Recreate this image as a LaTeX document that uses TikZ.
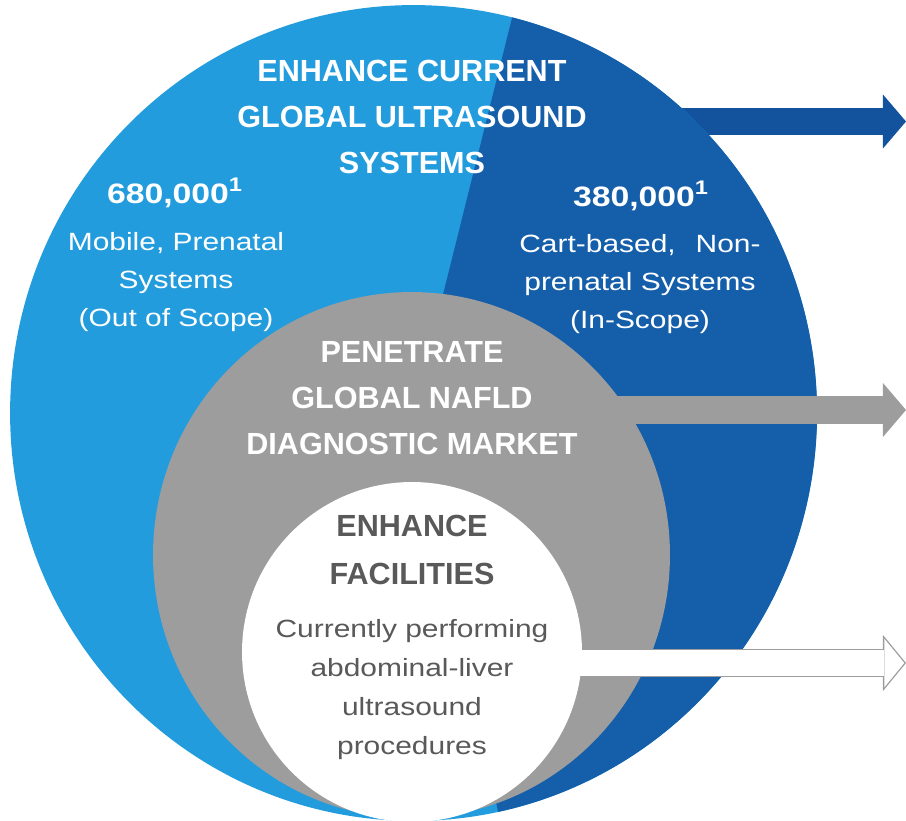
\documentclass[tikz,border=0pt]{standalone}
\usepackage{fontspec}
\setmainfont{Liberation Sans}
\newfontfamily\widefont[FakeStretch=1.2]{Liberation Sans}
\usetikzlibrary{arrows.meta, shapes.geometric}

\definecolor{lightblue}{HTML}{239CDD}
\definecolor{darkblue}{HTML}{145EAA}
\definecolor{arrowblue}{HTML}{13529D}
\definecolor{midgray}{HTML}{9D9D9D}
\definecolor{textgray}{HTML}{595959}

\tikzset{
  heading/.style={font=\fontsize{17.4}{26.2}\selectfont\bfseries, align=center, inner sep=0pt, anchor=north},
  numtext/.style={font=\widefont\fontsize{16}{20}\selectfont\bfseries, inner sep=0pt, anchor=base},
  bodytext/.style={font=\widefont\fontsize{14.2}{21.6}\selectfont, align=center, inner sep=0pt, anchor=north},
  disc/.style={ellipse, inner sep=0pt, outer sep=0pt},
  fatarrow/.style={line width=15.4pt, -{Triangle[length=13.1pt, width=30.7pt, line width=0pt]}}
}

\begin{document}
\begin{tikzpicture}[x=0.02cm, y=-0.02cm]
  \useasboundingbox (0,0) rectangle (906,821);
  % centres and arrow ends
  \coordinate (bigc) at (413.5,413);
  \coordinate (bluetip) at (906,121.5);
  \coordinate (graytip) at (906,410);
  \coordinate (whitetip) at (906,663);
  \coordinate (whitein) at (904.3,663);

  % outer circle
  \draw[fatarrow, arrowblue] (bigc |- bluetip) -- (bluetip);
  \node[disc, fill=lightblue, minimum width=16.14cm, minimum height=16.32cm] (big) at (bigc) {};
  \fill[darkblue] (bigc) -- ++(-75.85:403.5 and 408)
    arc[start angle=-75.85, end angle=77.9, x radius=403.5, y radius=408] -- cycle;

  % middle circle
  \draw[fatarrow, midgray] (bigc |- graytip) -- (graytip);
  \node[disc, fill=midgray, minimum width=10.34cm, minimum height=10.52cm] (mid) at (411.5,555) {};

  % inner circle
  \draw[midgray, line width=15.9pt, -{Triangle[length=13.1pt, width=31.9pt, line width=0pt]}] (bigc |- whitetip) -- (whitetip);
  \draw[white, line width=14.5pt, -{Triangle[length=11.4pt, width=27.7pt, line width=0pt]}] (bigc |- whitein) -- (whitein);
  \node[disc, fill=white, minimum size=6.8cm] (small) at (412,652) {};

  % texts
  \node[heading, text=white] (current) at (412,60) {ENHANCE CURRENT\\GLOBAL ULTRASOUND\\SYSTEMS};
  \node[numtext, text=white] (mobilecount) at (175,203) {680,000\textsuperscript{1}};
  \node[bodytext, text=white] (mobile) at (176,232) {Mobile, Prenatal\\Systems\\(Out of Scope)};
  \node[numtext, text=white] (cartcount) at (641,206) {380,000\textsuperscript{1}};
  \node[bodytext, text=white] (cart) at (640,234) {Cart-based,\hspace{0.8em}Non-\\prenatal Systems\\(In-Scope)};
  \node[heading, text=white] (nafld) at (412,341) {PENETRATE\\GLOBAL NAFLD\\DIAGNOSTIC MARKET};
  \node[heading, text=textgray, font=\fontsize{17.4}{27.3}\selectfont\bfseries] (facilities) at (412,515) {ENHANCE\\FACILITIES};
  \node[bodytext, text=textgray, font=\widefont\fontsize{14.2}{22.2}\selectfont] (procedures) at (412,619) {Currently performing\\abdominal-liver\\ultrasound\\procedures};
\end{tikzpicture}
\end{document}
